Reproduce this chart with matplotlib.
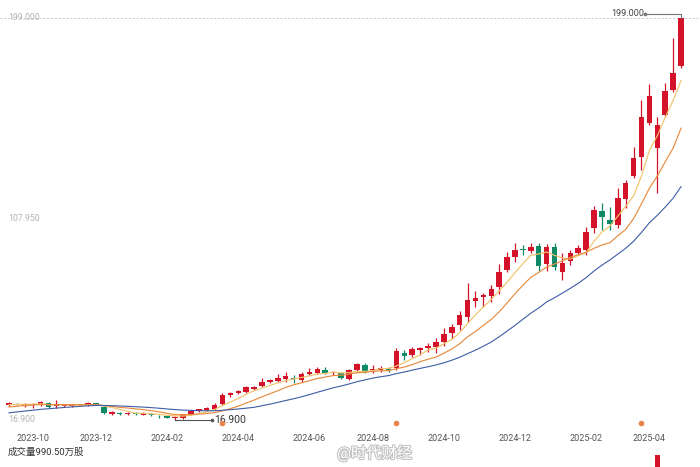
import numpy as np
import pandas as pd
import matplotlib
matplotlib.use("Agg")
import matplotlib.pyplot as plt
import matplotlib.patheffects as pe
from matplotlib.transforms import blended_transform_factory

plt.rcParams['font.family'] = ['Roboto', 'Noto Sans CJK SC', 'DejaVu Sans']

# weekly candles, mid Sep 2023 .. end Apr 2025
open_ = [23.7, 24.1, 23.2, 23.7, 23.7, 24.6, 23.2, 23.3, 23.2, 23.6,
         23.7, 24.4, 22.8, 19.6, 20.2, 19.6, 20.0, 19.2, 19.7, 18.6,
         18.7, 17.8, 17.8, 19.6, 21.0, 21.4, 21.9, 24.1, 28.2, 29.1,
         29.6, 30.9, 32.3, 34.1, 34.6, 35.5, 35.9, 35.0, 37.7, 38.2,
         39.5, 38.2, 38.2, 35.5, 39.5, 41.8, 39.5, 39.5, 40.0, 40.5,
         47.3, 46.3, 48.6, 49.5, 50.0, 52.2, 56.3, 59.9, 63.6, 70.8,
         72.6, 73.1, 77.1, 84.8, 90.7, 94.4, 93.5, 95.7, 87.6, 95.3,
         83.9, 88.9, 92.6, 93.9, 103.9, 111.6, 107.5, 105.2, 117.0, 127.4,
         136.0, 151.4, 140.1, 155.1, 166.4, 177.3]
high = [25.0, 24.6, 24.4, 24.6, 25.4, 25.0, 25.9, 23.9, 24.0, 24.2,
        25.2, 24.8, 23.6, 20.9, 20.6, 20.4, 20.3, 20.4, 20.0, 19.2,
        19.0, 18.6, 19.8, 21.2, 22.1, 22.6, 24.6, 29.1, 29.6, 30.5,
        32.3, 32.3, 35.9, 35.5, 37.7, 38.6, 37.3, 38.6, 40.5, 40.9,
        40.9, 39.1, 38.6, 40.0, 42.7, 42.7, 41.8, 41.4, 40.9, 49.5,
        48.6, 50.0, 50.0, 51.8, 54.0, 58.6, 60.4, 66.3, 79.0, 75.3,
        74.4, 78.1, 87.6, 93.0, 97.1, 96.2, 97.1, 97.1, 96.6, 97.1,
        92.6, 93.9, 96.2, 104.3, 113.8, 115.2, 113.4, 122.0, 125.6, 140.6,
        161.9, 169.1, 154.2, 169.6, 189.9, 199.0]
low = [23.2, 23.5, 22.9, 22.3, 23.2, 22.5, 22.3, 22.9, 22.8, 23.1,
       23.4, 23.5, 19.8, 19.2, 19.3, 19.2, 19.2, 19.0, 18.9, 17.8,
       17.6, 16.9, 17.5, 19.3, 20.6, 21.0, 21.6, 23.6, 27.5, 28.6,
       29.1, 30.5, 31.8, 33.7, 34.1, 34.1, 33.7, 34.1, 37.3, 37.7,
       37.7, 37.3, 35.5, 35.0, 38.6, 38.2, 38.2, 38.6, 38.6, 39.5,
       44.1, 45.4, 46.3, 47.7, 47.3, 50.4, 53.6, 57.7, 61.3, 68.1,
       68.1, 70.4, 74.0, 83.9, 88.5, 91.6, 92.6, 84.4, 84.4, 84.8,
       80.3, 87.1, 91.6, 91.6, 101.6, 103.0, 103.0, 103.9, 112.9, 126.5,
       130.1, 150.5, 119.7, 154.2, 165.5, 176.4]
close = [24.6, 23.7, 24.1, 23.8, 25.0, 22.8, 23.5, 23.7, 23.7, 23.8,
         24.6, 23.8, 20.1, 20.5, 19.6, 20.1, 19.6, 20.0, 19.2, 18.5,
         17.8, 18.3, 19.6, 21.0, 21.9, 22.3, 23.7, 28.2, 29.1, 30.0,
         31.8, 31.8, 34.1, 35.0, 35.9, 36.8, 35.5, 37.7, 38.6, 40.0,
         38.2, 38.3, 35.9, 39.5, 42.3, 38.6, 40.0, 40.5, 39.7, 48.2,
         45.9, 49.1, 49.5, 50.4, 52.2, 55.9, 59.0, 64.5, 71.3, 72.2,
         73.5, 76.2, 83.9, 90.7, 93.9, 93.9, 95.3, 86.7, 95.3, 86.2,
         88.0, 92.6, 94.8, 102.1, 112.0, 108.9, 105.7, 117.5, 124.3, 135.6,
         154.2, 163.7, 150.5, 165.9, 174.1, 199.0]

# closes of the weeks before the first visible candle (only feed the moving averages)
seed_close = [15.8, 16.2, 16.5, 16.9, 17.3, 17.6, 18.0, 18.5, 19.0, 19.6,
              20.3, 21.0, 21.8, 22.5, 23.0, 23.4, 23.6, 23.8, 23.9]

tick_idx = [3, 11, 20, 29, 38, 46, 55, 64, 73, 81]
tick_labels = ['2023-10', '2023-12', '2024-02', '2024-04', '2024-06',
               '2024-08', '2024-10', '2024-12', '2025-02', '2025-04']
event_idx = [27, 49, 80]
volume_idx = [82]

RED = '#d4122a'
GREEN = '#0f8a66'

o = np.array(open_)
h = np.array(high)
l = np.array(low)
c = np.array(close)
x = np.arange(len(c))

allc = pd.Series(seed_close + close)
k = len(seed_close)
ma5 = allc.rolling(5).mean().to_numpy()[k:]
ma10 = allc.rolling(10).mean().to_numpy()[k:]
ma20 = allc.rolling(20).mean().to_numpy()[k:]

fig = plt.figure(figsize=(7, 4.67), dpi=100)
ax = fig.add_axes([0, 1 - 430 / 467, 1, 430 / 467])
ax.set_xlim(-1.14, 87.4)
ax.set_ylim(12.37, 207.15)
for s in ax.spines.values():
    s.set_visible(False)

col = np.where(c >= o, RED, GREEN)
ax.vlines(x, l, h, colors=col, lw=0.9, zorder=2)
body = np.maximum(np.abs(c - o), 0.3)
ax.bar(x, body, bottom=np.minimum(o, c), width=0.7, color=col, zorder=3)

ax.plot(x, ma5, color='#f2c46c', lw=0.85, zorder=4)
ax.plot(x, ma10, color='#e88c40', lw=0.85, zorder=4)
ax.plot(x, ma20, color='#3d5ca6', lw=0.8, zorder=4)

hi = h.max()
lo = l.min()
ax.axhline(hi, color='#c8c8c8', lw=0.7, ls=(0, (2, 2)), zorder=1)

tr = blended_transform_factory(ax.transAxes, ax.transData)
for v in [hi, (hi + lo) / 2, lo]:
    ax.text(0.012, v, f'{v:.3f}', transform=tr, fontsize=6.3, color='#b4b4b4',
            va='center', ha='left')

# max / min markers
hi_i = int(np.argmax(h))
ax.plot([hi_i - 4.5, hi_i, hi_i], [hi + 2.0, hi + 2.0, hi], color='#777777', lw=0.8, zorder=5)
ax.plot([hi_i - 4.5], [hi + 2.0], 'o', ms=1.6, color='#777777')
ax.text(hi_i - 4.6, hi + 2.0, f'{hi:.3f}', ha='right', va='center', fontsize=6.5, color='#444444')

lo_i = int(np.argmin(l))
ax.plot([lo_i, lo_i + 4.7], [lo, lo], color='#555555', lw=0.8, zorder=5)
ax.plot([lo_i + 4.7], [lo], 'o', ms=1.6, color='#555555')
ax.text(lo_i + 4.9, lo, f'{lo:.3f}', ha='left', va='center', fontsize=7.5, color='#333333')

ax.plot(event_idx, [15.6] * len(event_idx), 'o', ms=3, color='#e8834a', zorder=5)

ax.set_yticks([])
ax.set_xticks(tick_idx, tick_labels)
ax.tick_params(axis='x', length=0, pad=3, labelsize=6.5, labelcolor='#555555')

fig.text(8 / 700, 1 - 452 / 467, '成交量990.50万股', fontsize=6.8, color='#333333',
         va='center', ha='left')

# watermark
fig.text(0.535, 1 - 453 / 467, '@时代财经', fontsize=11, color='white', ha='center',
         va='center', path_effects=[pe.withStroke(linewidth=1.6, foreground='#c4c4c4')])

# top of the volume panel below
vax = fig.add_axes([0, 0, 1, 12 / 467])
vax.set_xlim(-1.14, 87.4)
vax.set_ylim(0, 1)
vax.bar(volume_idx, [2] * len(volume_idx), width=0.7, color=RED)
vax.axis('off')

fig.savefig('out.png', dpi=100)
